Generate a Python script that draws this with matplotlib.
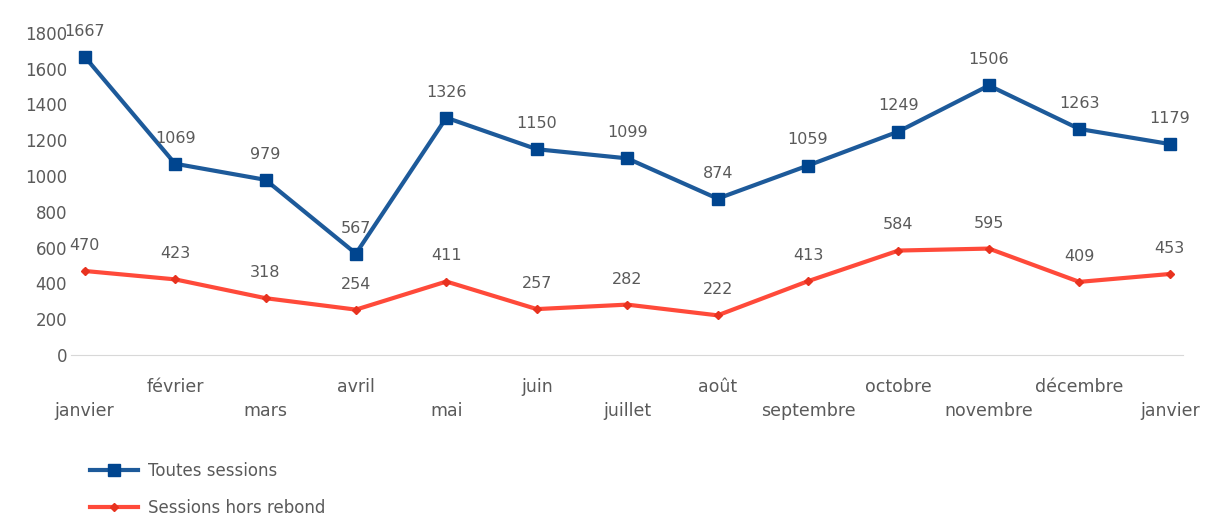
import matplotlib.pyplot as plt
from matplotlib.lines import Line2D

# ── Data ─────────────────────────────────────────────────────────────────────
months = ["janvier", "février", "mars", "avril", "mai", "juin", "juillet",
          "août", "septembre", "octobre", "novembre", "décembre", "janvier"]
all_sessions = [1667, 1069, 979, 567, 1326, 1150, 1099, 874, 1059, 1249, 1506, 1263, 1179]
no_bounce = [470, 423, 318, 254, 411, 257, 282, 222, 413, 584, 595, 409, 453]
yticks = [0, 200, 400, 600, 800, 1000, 1200, 1400, 1600, 1800]

BLUE = "#1d5a9a"
BLUE_M = "#00458f"
RED = "#ff4a3a"
GRAY = "#5a5a5a"

fig = plt.figure(figsize=(12.05, 5.3), dpi=100)
ax = fig.add_axes([0.059, 0.330, 0.923, 0.608])

x = list(range(len(months)))
ax.plot(x, all_sessions, color=BLUE, lw=3, marker="s", ms=8,
        mfc=BLUE_M, mec=BLUE_M, zorder=3)
ax.plot(x, no_bounce, color=RED, lw=3, marker="D", ms=4,
        mfc="#e8321f", mec="#e8321f", zorder=3)

for xi, v in zip(x, all_sessions):
    ax.annotate(str(v), (xi, v), xytext=(0, 13), textcoords="offset points",
                ha="center", va="bottom", fontsize=11.5, color=GRAY)
for xi, v in zip(x, no_bounce):
    ax.annotate(str(v), (xi, v), xytext=(0, 13), textcoords="offset points",
                ha="center", va="bottom", fontsize=11.5, color=GRAY)

ax.set_xlim(-0.15, 12.15)
ax.set_ylim(0, 1800)
ax.set_yticks(yticks)
ax.set_yticklabels([str(t) for t in yticks], fontsize=12, color=GRAY)
ax.set_xticks(x)
ax.set_xticklabels([])
for xi, m in zip(x, months):
    off = -0.099 if xi % 2 == 1 else -0.174
    ax.text(xi, off, m, transform=ax.get_xaxis_transform(), ha="center",
            va="center", fontsize=12.5, color=GRAY)

ax.tick_params(axis="both", length=0)
ax.tick_params(axis="y", pad=3)
for s in ["top", "right", "left"]:
    ax.spines[s].set_visible(False)
ax.spines["bottom"].set_color("#d8d8d8")

handles = [
    Line2D([], [], color=BLUE, lw=3, marker="s", ms=8, mfc=BLUE_M, mec=BLUE_M,
           label="Toutes sessions"),
    Line2D([], [], color=RED, lw=3, marker="D", ms=4, mfc="#e8321f", mec="#e8321f",
           label="Sessions hors rebond"),
]
fig.legend(handles=handles, loc="upper left", bbox_to_anchor=(0.062, 0.157),
           frameon=False, fontsize=12, labelcolor=GRAY, handlelength=2.9,
           handletextpad=0.6, labelspacing=1.15)

plt.savefig("out.png", dpi=100)
